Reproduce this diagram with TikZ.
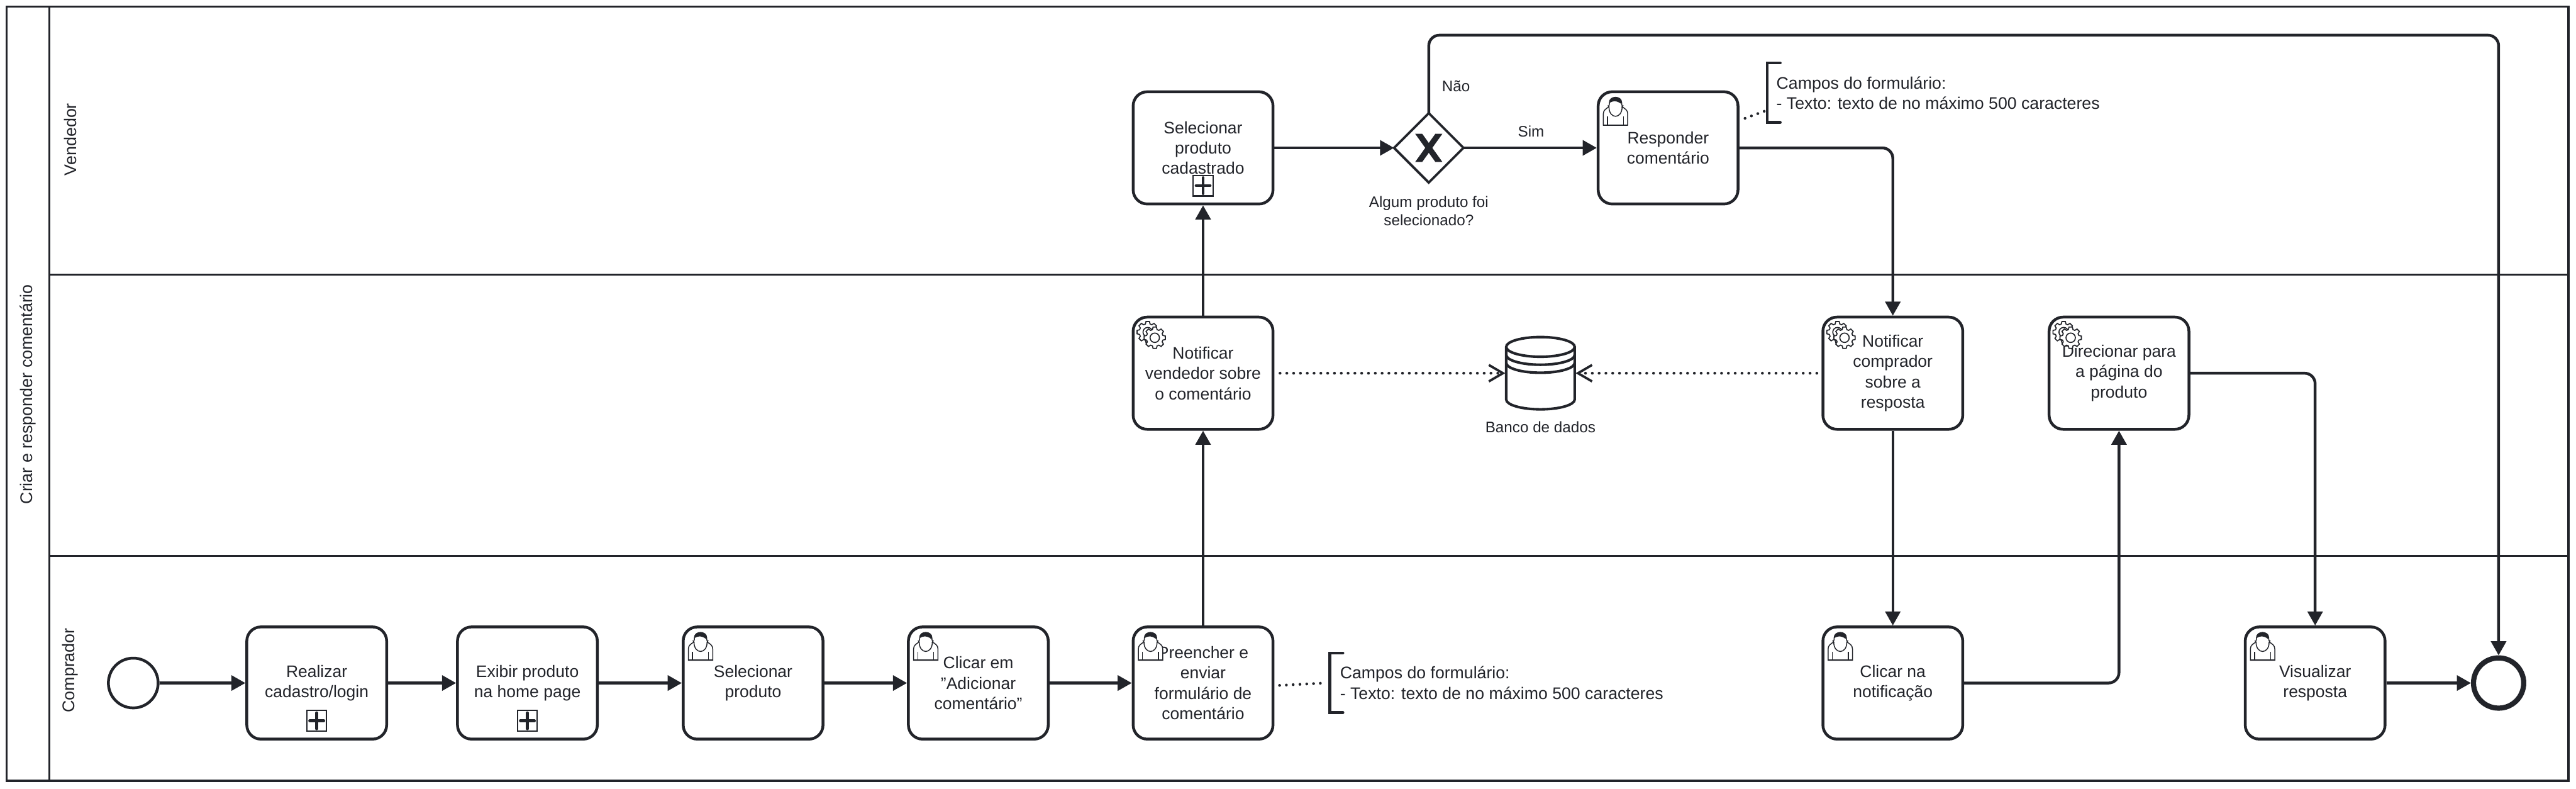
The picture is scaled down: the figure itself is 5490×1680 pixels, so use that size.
\documentclass[tikz,border=0pt]{standalone}
\usepackage{fontspec}
\setmainfont{Liberation Sans}
\usetikzlibrary{arrows.meta,shapes.geometric}
\definecolor{ink}{HTML}{22242A}
\tikzset{
  base/.style={line width=1.2pt,draw=ink,text=ink},
  task/.style={base,fill=white,rectangle,rounded corners=6pt,minimum width=59.6pt,minimum height=47.8pt,inner sep=0pt,outer sep=0.6pt,align=center,font=\fontsize{7.1}{8.7}\selectfont},
  flow/.style={line width=1.2pt,draw=ink,rounded corners=4.5pt,-{Triangle[length=6pt,width=6.4pt]}},
  assoc/.style={line width=1.2pt,draw=ink,line cap=round,dash pattern=on 0pt off 2.9pt,-{Straight Barb[length=6pt,width=7pt,line width=1pt]}},
  dots/.style={line width=1.2pt,draw=ink,line cap=round,dash pattern=on 0pt off 2.9pt},
  lanelabel/.style={rotate=90,text=ink,font=\fontsize{7.2}{8.7}\selectfont,inner sep=0pt},
  smalllabel/.style={text=ink,font=\fontsize{6.5}{7.8}\selectfont,inner sep=0pt,align=center},
  notetext/.style={text=ink,font=\fontsize{7.15}{8.8}\selectfont,inner sep=0pt,align=left,anchor=west},
  lanerule/.style={line width=0.95pt,draw=ink}
}
\newcommand{\usrico}[1]{%
  \begin{scope}[shift={(#1)},shift={(14,14)},line width=0.4pt,draw=ink]
    \draw[fill=white] (0,60) -- (0,36) .. controls (0,28) and (6,25) .. (12,21) .. controls (8,16) and (13,24) .. (13,12) .. controls (13,-3) and (39,-3) .. (39,12) .. controls (39,24) and (44,16) .. (40,21) .. controls (46,25) and (52,28) .. (52,36) -- (52,60) -- cycle;
    \fill[ink] (13,13) .. controls (13,-3) and (39,-3) .. (39,13) .. controls (37,14) and (36,15) .. (34,12) .. controls (28,9) and (22,7) .. (13,13) -- cycle;
    \draw (12,21) .. controls (12,48) and (40,48) .. (40,21);
    \draw (9,42) -- (9,60) (43,42) -- (43,60);
    \draw[line width=0.6pt] (0,60) -- (52,60);
  \end{scope}}
\newcommand{\gearshape}[2]{%
  \begin{scope}[shift={(#1,#2)},line width=0.45pt,draw=ink]
    \draw[fill=white] (-16:18) \foreach \a in {0,45,...,315}{ -- (\a-16:18) -- (\a-9:23) -- (\a+9:23) -- (\a+16:18)} -- cycle;
    \draw (0,0) circle[radius=10];
  \end{scope}}
\newcommand{\gearico}[1]{%
  \begin{scope}[shift={(#1)}]
    \gearshape{34}{35}
    \gearshape{49}{47}
  \end{scope}}
\newcommand{\plusmark}[1]{%
  \begin{scope}[shift={(#1)},shift={(0,203)}]
    \draw[ink,line width=0.55pt] (-21,-22) rectangle (21,22);
    \draw[ink,line width=1.2pt,line cap=round] (-15,0) -- (15,0) (0,-17) -- (0,17);
  \end{scope}}
\begin{document}
\begin{tikzpicture}[x=0.2pt,y=-0.2pt]
\useasboundingbox (0,0) rectangle (5490,1680);
\fill[white] (0,0) rectangle (5490,1680);
% pool and lanes
\draw[lanerule] (14,14) rectangle (5474,1663);
\coordinate (hT) at (105,14);
\coordinate (hB) at (105,1663);
\coordinate (l1L) at (105,585);
\coordinate (l1R) at (5474,585);
\coordinate (l2L) at (105,1184);
\coordinate (l2R) at (5474,1184);
\draw[lanerule] (hT) -- (hB);
\draw[lanerule] (l1L) -- (l1R);
\draw[lanerule] (l2L) -- (l2R);
\node[lanelabel] (pool) at (60,840) {Criar e responder comentário};
\node[lanelabel] (vend) at (150,297) {Vendedor};
\node[lanelabel] (comp) at (150,1428) {Comprador};
% events
\node[base,circle,fill=white,minimum size=21.2pt,inner sep=0pt,outer sep=0.6pt] (start) at (284,1455) {};
\node[draw=ink,line width=2.2pt,circle,fill=white,minimum size=21.4pt,inner sep=0pt,outer sep=1.1pt] (end) at (5325,1455) {};
% tasks
\node[task] (t1) at (675,1455) {Realizar\\cadastro/login};
\node[task] (t2) at (1124,1455) {Exibir produto\\na home page};
\node[task] (t3) at (1605,1455) {Selecionar\\produto};
\node[task] (t4) at (2085,1455) {Clicar em\\"Adicionar\\comentário"};
\node[task] (t5) at (2564,1455) {Preencher e\\enviar\\formulário de\\comentário};
\node[task] (t6) at (4034,1455) {Clicar na\\notificação};
\node[task] (t7) at (4934,1455) {Visualizar\\resposta};
\node[task] (m1) at (2564,795) {Notificar\\vendedor sobre\\o comentário};
\node[task] (m2) at (4034,795) {Notificar\\comprador\\sobre a\\resposta};
\node[task] (m3) at (4516,795) {Direcionar para\\a página do\\produto};
\node[task] (v1) at (2564,315) {Selecionar\\produto\\cadastrado};
\node[task] (v2) at (3555,315) {Responder\\comentário};
% markers and icons
\plusmark{t1.north}
\plusmark{t2.north}
\plusmark{v1.north}
\usrico{t3.north west}
\usrico{t4.north west}
\usrico{t5.north west}
\usrico{t6.north west}
\usrico{t7.north west}
\usrico{v2.north west}
\gearico{m1.north west}
\gearico{m2.north west}
\gearico{m3.north west}
% gateway
\node[shape=diamond,draw=ink,line width=1pt,fill=white,minimum size=29.6pt,inner sep=0pt,outer sep=0pt] (gw) at (3045,315) {};
\fill[ink] (3016,285) -- (3031,285) -- (3074,345) -- (3059,345) -- cycle;
\fill[ink] (3074,285) -- (3059,285) -- (3016,345) -- (3031,345) -- cycle;
\node[smalllabel] (gwl) at (3045,450) {Algum produto foi\\selecionado?};
\node[smalllabel] (sim) at (3263,280) {Sim};
\node[smalllabel] (nao) at (3103,184) {Não};
% data store
\node[minimum width=30pt,minimum height=30.8pt,inner sep=0pt,outer sep=0pt] (db) at (3283,795) {};
\begin{scope}[line width=1.1pt,draw=ink]
  \draw (3210,739) -- (3210,851) arc[start angle=180,end angle=0,x radius=73,y radius=21] -- (3356,739);
  \draw (3283,739) ellipse[x radius=73,y radius=21];
  \draw (3210,756) arc[start angle=180,end angle=0,x radius=73,y radius=21];
  \draw (3210,773) arc[start angle=180,end angle=0,x radius=73,y radius=21];
\end{scope}
\node[smalllabel] (dbl) at (3283,910) {Banco de dados};
% sequence flows
\draw[flow] (start.east) -- (t1.west);
\draw[flow] (t1.east) -- (t2.west);
\draw[flow] (t2.east) -- (t3.west);
\draw[flow] (t3.east) -- (t4.west);
\draw[flow] (t4.east) -- (t5.west);
\draw[flow] (t5.north) -- (m1.south);
\draw[flow] (m1.north) -- (v1.south);
\draw[flow] (v1.east) -- (gw.west);
\draw[flow] (gw.east) -- (v2.west);
\coordinate (topbar) at (3045,75);
\draw[flow] (gw.north) -- (topbar) -| (end.north);
\draw[flow] (v2.east) -| (m2.north);
\draw[flow] (m2.south) -- (t6.north);
\draw[flow] (t6.east) -| (m3.south);
\draw[flow] (m3.east) -| (t7.north);
\draw[flow] (t7.east) -- (end.west);
% data associations
\coordinate (m1a) at (2728,795);
\coordinate (m2a) at (3872,795);
\draw[assoc] (m1a) -- (db.west);
\draw[assoc] (m2a) -- (db.east);
% annotations
\node[notetext] (n1) at (3785,198) {Campos do formulário:\\- Texto: texto de no máximo 500 caracteres};
\node[notetext] (n2) at (2855,1455) {Campos do formulário:\\- Texto: texto de no máximo 500 caracteres};
\draw[line width=1.2pt,draw=ink,line cap=round] (3794,134) -- (3766,134) -- (3766,261) -- (3794,261);
\draw[line width=1.2pt,draw=ink,line cap=round] (2862,1391) -- (2834,1391) -- (2834,1518) -- (2862,1518);
\coordinate (d1a) at (3719,252);
\coordinate (d1b) at (3760,237);
\coordinate (d2a) at (2727,1460);
\coordinate (d2b) at (2824,1455);
\draw[dots] (d1a) -- (d1b);
\draw[dots] (d2a) -- (d2b);
\end{tikzpicture}
\end{document}
